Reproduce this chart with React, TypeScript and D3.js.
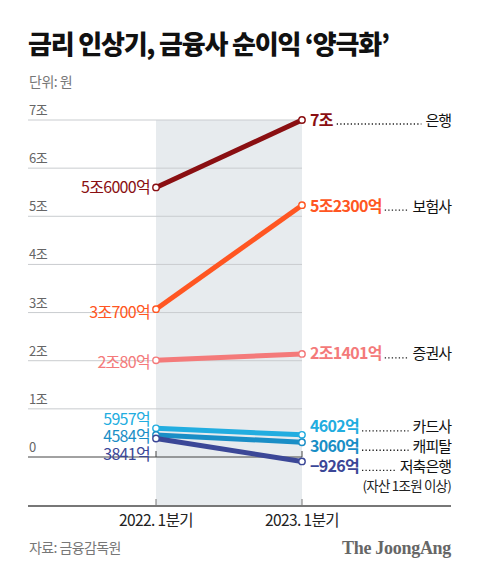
import React, { useEffect, useRef } from "react";
import * as d3 from "d3";

const periods = ["2022. 1분기", "2023. 1분기"];
const sectors = ["은행", "보험사", "증권사", "카드사", "캐피탈", "저축은행"];
const values2022 = [5.6, 3.07, 2.008, 0.5957, 0.4584, 0.3841];
const values2023 = [7.0, 5.23, 2.1401, 0.4602, 0.306, -0.0926];
const labels2022 = ["5조6000억", "3조700억", "2조80억", "5957억", "4584억", "3841억"];
const labels2023 = ["7조", "5조2300억", "2조1401억", "4602억", "3060억", "−926억"];
const yTickValues = [0, 1, 2, 3, 4, 5, 6, 7];
const yTickLabels = ["0", "1조", "2조", "3조", "4조", "5조", "6조", "7조"];
const colors = ["#8a0f12", "#ff5622", "#f47a7a", "#22ade0", "#1a8ec6", "#3b4797"];
// label nudges (px) to avoid overlaps
const leftNudge = [0, 3, 2, -9, 2, 16];
const rightNudge = [0, 1, 0, -8, 4, 5];

const FONT = "'Noto Sans CJK KR', 'Noto Sans', sans-serif";

export default function App() {
  const ref = useRef<SVGSVGElement | null>(null);

  useEffect(() => {
    const svg = d3.select(ref.current);
    svg.selectAll("*").remove();

    const x = d3.scalePoint<string>().domain(periods).range([156, 302]);
    const y = d3.scaleLinear().domain([0, 7]).range([457, 120]);
    const gridLeft = 28;
    const right = 451;

    // title
    svg.append("text").attr("x", 28).attr("y", 54)
      .attr("font-family", FONT).attr("font-weight", 900).attr("font-size", 26)
      .attr("letter-spacing", -1.2).attr("fill", "#111")
      .text("금리 인상기, 금융사 순이익 ‘양극화’");
    svg.append("text").attr("x", 29).attr("y", 87)
      .attr("font-family", FONT).attr("font-size", 14).attr("fill", "#777")
      .attr("letter-spacing", -0.5)
      .text("단위: 원");

    // shaded region
    svg.append("rect")
      .attr("x", x(periods[0])!).attr("y", y(7))
      .attr("width", x(periods[1])! - x(periods[0])!)
      .attr("height", 506 - y(7))
      .attr("fill", "#e7ebee");

    // grid
    yTickValues.forEach((v, i) => {
      if (v !== 0) {
        svg.append("line").attr("x1", gridLeft).attr("x2", x(periods[1])!)
          .attr("y1", y(v)).attr("y2", y(v)).attr("stroke", "#c9cccf").attr("stroke-width", 1);
      }
      svg.append("text").attr("x", 29).attr("y", y(v) - 5)
        .attr("font-family", FONT).attr("font-size", 13).attr("fill", "#666")
        .attr("letter-spacing", -0.5)
        .text(yTickLabels[i]);
    });

    // zero line
    svg.append("line").attr("x1", gridLeft).attr("x2", x(periods[1])!)
      .attr("y1", y(0)).attr("y2", y(0)).attr("stroke", "#444").attr("stroke-width", 1);
    periods.forEach((p) => {
      svg.append("line").attr("x1", x(p)!).attr("x2", x(p)!)
        .attr("y1", y(0) - 6).attr("y2", y(0)).attr("stroke", "#444").attr("stroke-width", 1);
    });

    // bottom axis
    svg.append("line").attr("x1", gridLeft).attr("x2", right)
      .attr("y1", 506).attr("y2", 506).attr("stroke", "#777").attr("stroke-width", 2);
    periods.forEach((p) => {
      svg.append("line").attr("x1", x(p)!).attr("x2", x(p)!)
        .attr("y1", 499).attr("y2", 506).attr("stroke", "#777").attr("stroke-width", 1);
      svg.append("text").attr("x", x(p)!).attr("y", 526).attr("text-anchor", "middle")
        .attr("font-family", FONT).attr("font-size", 15.5).attr("fill", "#222")
        .attr("letter-spacing", -0.6)
        .text(p);
    });

    // left labels
    sectors.forEach((s, i) => {
      const ly = y(values2022[i]) + leftNudge[i];
      const t = svg.append("text").attr("x", 150).attr("y", ly + 5.5)
        .attr("text-anchor", "end")
        .attr("font-family", FONT).attr("font-size", 16).attr("fill", colors[i])
        .attr("letter-spacing", -0.7)
        .text(labels2022[i]);
      if (i === 5 || i === 2) {
        const bb = (t.node() as SVGTextElement).getBBox();
        svg.insert("rect", "text")
          .attr("x", bb.x - 2).attr("y", bb.y + 3).attr("width", bb.width + 4).attr("height", bb.height - 6)
          .attr("fill", "#fff");
      }
    });
    svg.selectAll("text").raise();

    // lines
    const line = d3.line<[number, number]>().x((d) => d[0]).y((d) => d[1]);
    sectors.forEach((s, i) => {
      const pts: [number, number][] = [
        [x(periods[0])!, y(values2022[i])],
        [x(periods[1])!, y(values2023[i])],
      ];
      svg.append("path").attr("d", line(pts)!).attr("stroke", colors[i])
        .attr("stroke-width", 5).attr("fill", "none").attr("stroke-linecap", "butt");
    });
    sectors.forEach((s, i) => {
      [values2022[i], values2023[i]].forEach((v, j) => {
        svg.append("circle").attr("cx", x(periods[j])!).attr("cy", y(v)).attr("r", 3.2)
          .attr("fill", "#fff").attr("stroke", colors[i]).attr("stroke-width", 1.4);
      });
    });

    // right labels
    sectors.forEach((s, i) => {
      const ly = y(values2023[i]) + rightNudge[i];
      const vt = svg.append("text").attr("x", 310).attr("y", ly + 5.5)
        .attr("font-family", FONT).attr("font-size", 16).attr("font-weight", 700)
        .attr("fill", colors[i]).attr("letter-spacing", -0.7)
        .text(labels2023[i]);
      const nt = svg.append("text").attr("x", right).attr("y", ly + 5.5)
        .attr("text-anchor", "end")
        .attr("font-family", FONT).attr("font-size", 15).attr("fill", "#111")
        .attr("letter-spacing", -1)
        .text(s);
      const vb = (vt.node() as SVGTextElement).getBBox();
      const nb = (nt.node() as SVGTextElement).getBBox();
      svg.append("line").attr("x1", vb.x + vb.width + 3).attr("x2", nb.x - 4)
        .attr("y1", ly + 4).attr("y2", ly + 4)
        .attr("stroke", "#222").attr("stroke-width", 1.3)
        .attr("stroke-dasharray", "1.3 2.2");
    });
    svg.append("text").attr("x", right).attr("y", y(values2023[5]) + rightNudge[5] + 25)
      .attr("text-anchor", "end")
      .attr("font-family", FONT).attr("font-size", 13.5).attr("fill", "#222")
      .attr("letter-spacing", -0.8)
      .text("(자산 1조원 이상)");

    // source & credit
    svg.append("text").attr("x", 29).attr("y", 553)
      .attr("font-family", FONT).attr("font-size", 14).attr("fill", "#777")
      .attr("letter-spacing", -0.6)
      .text("자료: 금융감독원");
    svg.append("text").attr("x", right).attr("y", 554).attr("text-anchor", "end")
      .attr("font-family", "'Liberation Serif', 'DejaVu Serif', serif")
      .attr("font-weight", 700).attr("font-size", 18).attr("fill", "#666")
      .attr("letter-spacing", -0.3)
      .text("The JoongAng");
  }, []);

  return (
    <svg
      ref={ref}
      width={480}
      height={577}
      style={{ position: "absolute", left: 0, top: 0, background: "#fff", display: "block" }}
    />
  );
}
